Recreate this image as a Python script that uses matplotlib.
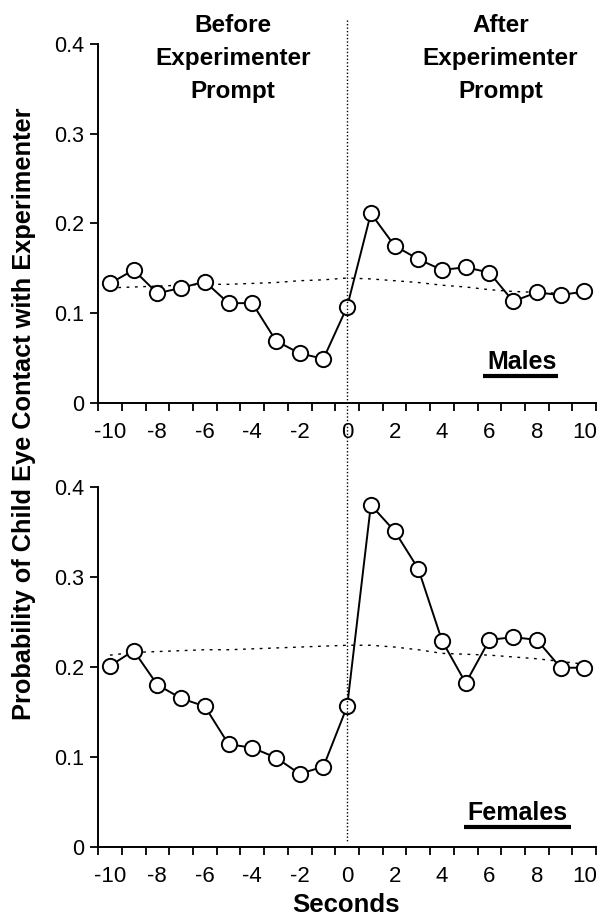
import numpy as np
import matplotlib
matplotlib.use("Agg")
import matplotlib.pyplot as plt
from matplotlib.lines import Line2D
from matplotlib.transforms import blended_transform_factory

plt.rcParams['font.family'] = ['Liberation Sans', 'DejaVu Sans']
plt.rcParams['axes.unicode_minus'] = False

seconds = list(range(-10, 11))

males = [0.133, 0.148, 0.122, 0.128, 0.135, 0.111, 0.111, 0.069, 0.055, 0.049, 0.107,
         0.211, 0.175, 0.160, 0.148, 0.151, 0.145, 0.113, 0.123, 0.120, 0.124]
males_base = [0.128, 0.129, 0.130, 0.131, 0.132, 0.132, 0.133, 0.134, 0.136, 0.137, 0.139,
              0.138, 0.136, 0.134, 0.131, 0.129, 0.126, 0.124, 0.123, 0.122, 0.121]

females = [0.201, 0.218, 0.180, 0.165, 0.156, 0.114, 0.110, 0.099, 0.081, 0.089, 0.156,
           0.380, 0.351, 0.309, 0.229, 0.182, 0.230, 0.233, 0.230, 0.199, 0.199]
females_base = [0.213, 0.216, 0.217, 0.218, 0.219, 0.219, 0.220, 0.221, 0.222, 0.223, 0.224,
                0.224, 0.222, 0.219, 0.215, 0.214, 0.213, 0.211, 0.209, 0.206, 0.203]

y_ticks = [0, 0.1, 0.2, 0.3, 0.4]
y_labels = ["0", "0.1", "0.2", "0.3", "0.4"]
x_labels = list(range(-10, 11, 2))

fig = plt.figure(figsize=(5.98, 9.18), dpi=100)
ax1 = fig.add_axes([0.164, 0.5613, 0.833, 0.3909])
ax2 = fig.add_axes([0.164, 0.0777, 0.833, 0.3918])

panels = [(ax1, males, males_base, "Males", 0.851, 0.113, 0.074, (0.773, 0.924)),
          (ax2, females, females_base, "Females", 0.841, 0.094, 0.055, (0.735, 0.950))]

for ax, vals, base, name, tx, ty, uy, (ux0, ux1) in panels:
    ax.plot(seconds, base, color="black", lw=1.0, linestyle=(0, (2, 4)))
    ax.plot(seconds, vals, color="black", lw=1.4, marker="o", markersize=11,
            markerfacecolor="white", markeredgecolor="black", markeredgewidth=1.4)
    ax.set_xlim(-10.5, 10.5)
    ax.set_ylim(0, 0.4)
    ax.set_yticks(y_ticks)
    ax.set_yticklabels(y_labels)
    ax.set_xticks(x_labels)
    ax.set_xticks(np.arange(-10.5, 11, 1.0), minor=True)
    ax.tick_params(axis="x", which="major", length=0, labelsize=16, pad=14)
    ax.tick_params(axis="x", which="minor", length=6, width=1.3, direction="out")
    ax.tick_params(axis="y", length=6, width=1.3, direction="out", labelsize=15.5, pad=4)
    for s in ["top", "right"]:
        ax.spines[s].set_visible(False)
    for s in ["left", "bottom"]:
        ax.spines[s].set_linewidth(1.4)
    ax.text(tx, ty, name, transform=ax.transAxes, ha="center", va="center",
            fontsize=18, fontweight="bold")
    ax.plot([ux0, ux1], [uy, uy], transform=ax.transAxes, color="black", lw=3,
            clip_on=False, solid_capstyle="butt")

fig.text(0.578, 0.0142, "Seconds", ha="center", va="center",
         fontsize=18.5, fontweight="bold")
fig.text(0.04, 0.549, "Probability of Child Eye Contact with Experimenter",
         rotation=90, ha="center", va="center", fontsize=18.3, fontweight="bold")

fig.text(0.39, 0.985, "Before\nExperimenter\nPrompt", ha="center", va="top",
         fontsize=17.5, fontweight="bold", linespacing=1.55)
fig.text(0.837, 0.985, "After\nExperimenter\nPrompt", ha="center", va="top",
         fontsize=17.5, fontweight="bold", linespacing=1.55)

trans = blended_transform_factory(ax2.transData, fig.transFigure)
fig.add_artist(Line2D([0, 0], [1 - 20 / 918, 1 - 843 / 918], transform=trans,
                      color="black", lw=1.0, linestyle=(0, (1, 1.5))))

fig.savefig("out.png", dpi=100)
